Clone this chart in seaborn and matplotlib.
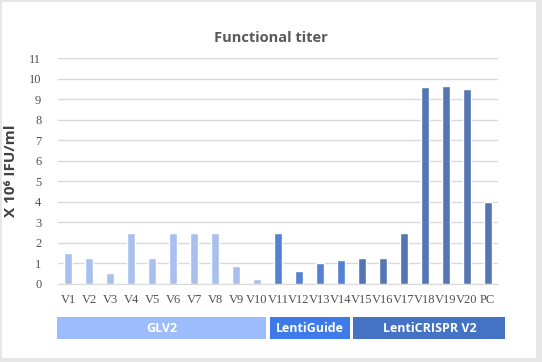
import matplotlib
matplotlib.use("Agg")
import matplotlib.pyplot as plt
import matplotlib.transforms as mtransforms
from matplotlib.patches import Rectangle
import seaborn as sb
import pandas as pd

# data
samples = ["V1", "V2", "V3", "V4", "V5", "V6", "V7", "V8", "V9", "V10", "V11",
           "V12", "V13", "V14", "V15", "V16", "V17", "V18", "V19", "V20", "PC"]
titer = [1.52, 1.28, 0.55, 2.5, 1.28, 2.5, 2.5, 2.5, 0.88, 0.26, 2.5,
         0.63, 1.03, 1.17, 1.27, 1.27, 2.5, 9.61, 9.66, 9.52, 3.98]
groups = ["GLV2"] * 10 + ["LentiGuide"] * 4 + ["LentiCRISPR V2"] * 7
group_names = ["GLV2", "LentiGuide", "LentiCRISPR V2"]
group_colors = ["#9dbcfb", "#3f7be8", "#4472c4"]

df = pd.DataFrame({"sample": samples, "titer": titer, "group": groups})
palette = dict(zip(group_names, group_colors))

sb.set_style("white")
fig = plt.figure(figsize=(5.42, 3.62), dpi=100)
fig.patch.set_facecolor("#e7e7e7")
# white card inside the gray border
fig.patches.append(Rectangle((2 / 542, 4 / 362), 534 / 542, 356 / 362,
                             transform=fig.transFigure, facecolor="white",
                             edgecolor="none", zorder=-1))

ax = fig.add_axes([58 / 542, 1 - 284 / 362, 440 / 542, (284 - 58.3) / 362])
ax.set_facecolor("none")
sb.barplot(data=df, x="sample", y="titer", hue="group", palette=palette,
           dodge=False, width=0.38, legend=False, ax=ax, zorder=3)

ax.set_ylim(0, 11)
ax.set_xlim(-0.5, 20.5)
ax.set_yticks(range(0, 12))
ax.yaxis.grid(True, color="#d9d9d9", linewidth=1, zorder=0)
ax.set_axisbelow(True)
for s in ["left", "right", "top"]:
    ax.spines[s].set_visible(False)
ax.spines["bottom"].set_color("#d9d9d9")
ax.tick_params(axis="both", length=0, labelcolor="#505050", labelsize=9)
ax.tick_params(axis="x", pad=7)
ax.tick_params(axis="y", pad=12)
for lab in ax.get_xticklabels() + ax.get_yticklabels():
    lab.set_family("Liberation Serif")
ax.set_xlabel("")
ax.set_ylabel("X 10⁶ IFU/ml", family=["Open Sans", "DejaVu Sans"],
              fontsize=11, fontweight="bold", color="#404040", labelpad=8)

fig.text(0.5, 1 - 38 / 362, "Functional titer", ha="center", va="center",
         family="Open Sans", fontsize=10.5, fontweight="bold", color="#595959")

# group boxes under the axis
trans = mtransforms.blended_transform_factory(ax.transData, fig.transFigure)
spans = [(-0.55, 9.45), (9.6, 13.45), (13.6, 20.85)]
y0, y1 = 1 - 339 / 362, 1 - 317 / 362
for (a, b), name, col in zip(spans, group_names, group_colors):
    r = Rectangle((a, y0), b - a, y1 - y0, transform=trans, facecolor=col,
                  edgecolor="none", clip_on=False)
    fig.patches.append(r)
    fig.text((a + b) / 2, (y0 + y1) / 2, name, transform=trans, ha="center",
             va="center", color="white", family="Open Sans", fontsize=9,
             fontweight="bold")

fig.savefig("out.png", dpi=100, facecolor=fig.get_facecolor())
